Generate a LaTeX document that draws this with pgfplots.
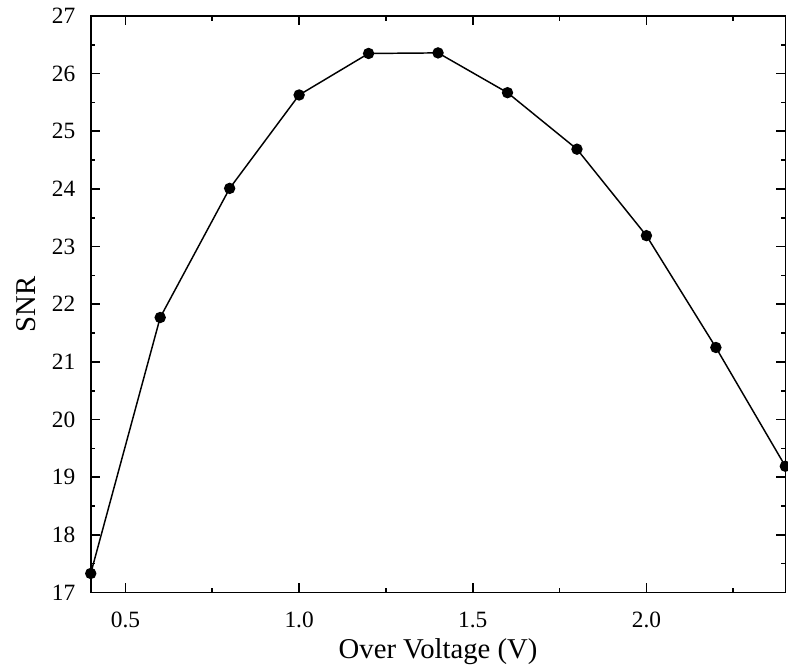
\documentclass[border=0pt]{standalone}
\usepackage{pgfplots}
\pgfplotsset{compat=1.18}
\usepackage{fontspec}
\setmainfont{Liberation Serif}
\usetikzlibrary{calc}
\begin{document}
\begin{tikzpicture}
\begin{axis}[
  name=ax,
  scale only axis,
  width=520.5pt, height=432pt,
  xmin=0.4, xmax=2.4, ymin=17, ymax=27,
  xtick={0.5,1.0,1.5,2.0},
  minor xtick={0.75,1.25,1.75,2.25},
  ytick={17,18,...,27},
  minor ytick={17.5,18.5,...,26.5},
  tick align=inside,
  major tick length=7pt,
  minor tick length=3.5pt,
  tick style={line width=1.2pt, black},
  axis line style={line width=1.2pt},
  xticklabel style={/pgf/number format/fixed, /pgf/number format/fixed zerofill, /pgf/number format/precision=1},
  /pgf/number format/assume math mode=true,
  ticklabel style={font=\fontsize{17.5}{20}\selectfont},
  label style={font=\fontsize{21.5}{25}\selectfont},
  xlabel={Over Voltage (V)},
  ylabel={SNR},
  xticklabel shift=11pt,
  yticklabel shift=8pt,
  xlabel shift=1pt,
  ylabel shift=5pt,
  clip=false,
]
\addplot[black, line width=1.1pt, mark=*, mark size=3.7pt] coordinates {
(0.4,17.33) (0.6,21.77) (0.8,24.01) (1.0,25.63) (1.2,26.35) (1.4,26.36)
(1.6,25.67) (1.8,24.69) (2.0,23.19) (2.2,21.25) (2.4,19.19)
};
\end{axis}
\pgfresetboundingbox
\path[use as bounding box] ($(ax.south west)+(-68pt,-55pt)$) rectangle ($(ax.north east)+(2pt,12pt)$);
\end{tikzpicture}
\end{document}
